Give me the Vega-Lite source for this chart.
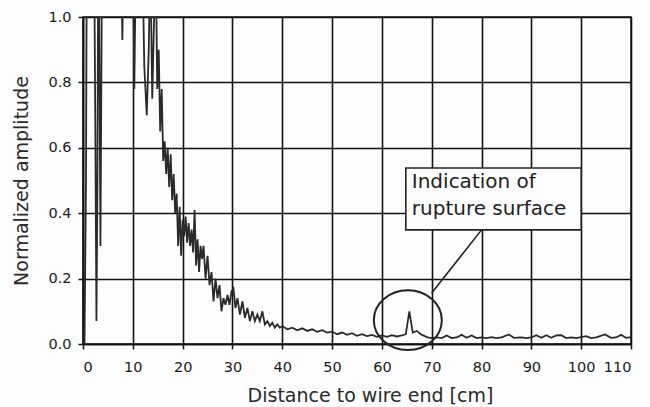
{
  "$schema": "https://vega.github.io/schema/vega-lite/v6.json",
  "width": 548,
  "height": 327,
  "autosize": "none",
  "padding": {"left": 83, "top": 17, "right": 19, "bottom": 63},
  "background": "#fdfdfd",
  "config": {
    "font": "DejaVu Sans",
    "view": {"stroke": "#111", "strokeWidth": 1.5},
    "axis": {
      "grid": true,
      "gridColor": "#111",
      "gridWidth": 1.6,
      "gridOpacity": 1,
      "domainColor": "#111",
      "domainWidth": 1.6,
      "tickColor": "#111",
      "tickSize": 5,
      "tickWidth": 1.5,
      "labelFont": "DejaVu Sans",
      "labelFontSize": 14.5,
      "labelColor": "#1a1a1a",
      "titleFont": "DejaVu Sans",
      "titleFontSize": 19,
      "titleFontWeight": "normal",
      "titleColor": "#2a2a2a"
    }
  },
  "datasets": {
    "signal": [
      {"d": 0.3, "amp": 0.0}, {"d": 0.6, "amp": 0.5}, {"d": 0.8, "amp": 1.4}, {"d": 1.5, "amp": 1.5},
      {"d": 2.2, "amp": 1.3}, {"d": 2.5, "amp": 0.6}, {"d": 2.7, "amp": 0.07}, {"d": 2.9, "amp": 0.5},
      {"d": 3.1, "amp": 1.4}, {"d": 3.5, "amp": 0.3}, {"d": 3.9, "amp": 1.4}, {"d": 5.0, "amp": 1.5},
      {"d": 7.5, "amp": 1.4}, {"d": 7.9, "amp": 0.93}, {"d": 8.3, "amp": 1.4}, {"d": 9.9, "amp": 1.4},
      {"d": 10.3, "amp": 0.78}, {"d": 10.7, "amp": 1.3}, {"d": 11.8, "amp": 1.3}, {"d": 12.3, "amp": 0.85},
      {"d": 12.8, "amp": 0.70}, {"d": 13.2, "amp": 0.9}, {"d": 13.5, "amp": 1.2}, {"d": 13.9, "amp": 0.75},
      {"d": 14.2, "amp": 0.95}, {"d": 14.6, "amp": 1.2}, {"d": 14.9, "amp": 0.78}, {"d": 15.2, "amp": 0.9},
      {"d": 15.5, "amp": 0.65}, {"d": 15.8, "amp": 0.78}, {"d": 16.1, "amp": 0.56}, {"d": 16.4, "amp": 0.62},
      {"d": 16.7, "amp": 0.52}, {"d": 17.0, "amp": 0.6}, {"d": 17.3, "amp": 0.48}, {"d": 17.6, "amp": 0.58},
      {"d": 17.9, "amp": 0.44}, {"d": 18.2, "amp": 0.52}, {"d": 18.5, "amp": 0.4}, {"d": 18.8, "amp": 0.46},
      {"d": 19.1, "amp": 0.30}, {"d": 19.4, "amp": 0.42}, {"d": 19.7, "amp": 0.27}, {"d": 20.0, "amp": 0.38},
      {"d": 20.3, "amp": 0.33}, {"d": 20.6, "amp": 0.39}, {"d": 20.9, "amp": 0.31}, {"d": 21.2, "amp": 0.37},
      {"d": 21.5, "amp": 0.30}, {"d": 21.8, "amp": 0.35}, {"d": 22.1, "amp": 0.28}, {"d": 22.4, "amp": 0.41},
      {"d": 22.7, "amp": 0.24}, {"d": 23.0, "amp": 0.32}, {"d": 23.3, "amp": 0.22}, {"d": 23.6, "amp": 0.30},
      {"d": 23.9, "amp": 0.26}, {"d": 24.2, "amp": 0.30}, {"d": 24.6, "amp": 0.20}, {"d": 25.0, "amp": 0.27},
      {"d": 25.4, "amp": 0.18}, {"d": 25.8, "amp": 0.22}, {"d": 26.2, "amp": 0.13}, {"d": 26.6, "amp": 0.20},
      {"d": 27.0, "amp": 0.14}, {"d": 27.4, "amp": 0.18}, {"d": 27.8, "amp": 0.10}, {"d": 28.2, "amp": 0.14},
      {"d": 28.6, "amp": 0.12}, {"d": 29.0, "amp": 0.15}, {"d": 29.4, "amp": 0.12}, {"d": 29.8, "amp": 0.16},
      {"d": 30.2, "amp": 0.17}, {"d": 30.6, "amp": 0.11}, {"d": 31.0, "amp": 0.14}, {"d": 31.5, "amp": 0.09},
      {"d": 32.0, "amp": 0.13}, {"d": 32.5, "amp": 0.08}, {"d": 33.0, "amp": 0.11}, {"d": 33.5, "amp": 0.07},
      {"d": 34.0, "amp": 0.10}, {"d": 34.5, "amp": 0.07}, {"d": 35.0, "amp": 0.09}, {"d": 35.5, "amp": 0.07},
      {"d": 36.0, "amp": 0.10}, {"d": 36.5, "amp": 0.06}, {"d": 37.0, "amp": 0.07}, {"d": 37.5, "amp": 0.055},
      {"d": 38.0, "amp": 0.065}, {"d": 38.5, "amp": 0.05}, {"d": 39.0, "amp": 0.06}, {"d": 39.5, "amp": 0.05},
      {"d": 40.0, "amp": 0.055}, {"d": 41, "amp": 0.045}, {"d": 42, "amp": 0.05}, {"d": 43, "amp": 0.042},
      {"d": 44, "amp": 0.048}, {"d": 45, "amp": 0.04}, {"d": 46, "amp": 0.045}, {"d": 47, "amp": 0.037},
      {"d": 48, "amp": 0.042}, {"d": 49, "amp": 0.035}, {"d": 50, "amp": 0.038}, {"d": 51, "amp": 0.03},
      {"d": 52, "amp": 0.035}, {"d": 53, "amp": 0.028}, {"d": 54, "amp": 0.033}, {"d": 55, "amp": 0.025},
      {"d": 56, "amp": 0.03}, {"d": 57, "amp": 0.024}, {"d": 58, "amp": 0.028}, {"d": 59, "amp": 0.022},
      {"d": 60, "amp": 0.026}, {"d": 61, "amp": 0.022}, {"d": 62, "amp": 0.027}, {"d": 63, "amp": 0.023},
      {"d": 64, "amp": 0.026}, {"d": 64.8, "amp": 0.03}, {"d": 65.5, "amp": 0.10}, {"d": 66.2, "amp": 0.035},
      {"d": 67, "amp": 0.04}, {"d": 67.8, "amp": 0.03}, {"d": 68.5, "amp": 0.025}, {"d": 69.2, "amp": 0.02},
      {"d": 70, "amp": 0.018}, {"d": 71, "amp": 0.02}, {"d": 72, "amp": 0.018}, {"d": 73, "amp": 0.026},
      {"d": 74, "amp": 0.018}, {"d": 75, "amp": 0.02}, {"d": 76, "amp": 0.028}, {"d": 77, "amp": 0.019},
      {"d": 78, "amp": 0.026}, {"d": 79, "amp": 0.018}, {"d": 80, "amp": 0.02}, {"d": 81, "amp": 0.018},
      {"d": 82, "amp": 0.021}, {"d": 83, "amp": 0.018}, {"d": 84, "amp": 0.02}, {"d": 85.5, "amp": 0.029},
      {"d": 86.5, "amp": 0.019}, {"d": 88, "amp": 0.02}, {"d": 89, "amp": 0.018}, {"d": 90, "amp": 0.02},
      {"d": 91, "amp": 0.027}, {"d": 92, "amp": 0.019}, {"d": 93, "amp": 0.027}, {"d": 94, "amp": 0.019},
      {"d": 95, "amp": 0.026}, {"d": 96, "amp": 0.027}, {"d": 97, "amp": 0.018}, {"d": 98, "amp": 0.02},
      {"d": 99, "amp": 0.018}, {"d": 101, "amp": 0.024}, {"d": 102, "amp": 0.018}, {"d": 103, "amp": 0.02},
      {"d": 104.8, "amp": 0.029}, {"d": 106, "amp": 0.019}, {"d": 107, "amp": 0.02}, {"d": 108, "amp": 0.028},
      {"d": 109, "amp": 0.019}, {"d": 110, "amp": 0.021}
    ],
    "box": [{"x1": 64.8, "x2": 100, "y1": 0.538, "y2": 0.349}],
    "labels": [
      {"x": 66, "y": 0.477, "t": "Indication of"},
      {"x": 66, "y": 0.394, "t": "rupture surface"}
    ],
    "ring": [{"x": 65.2, "y": 0.073}],
    "pointer": [{"x1": 70, "y1": 0.156, "x2": 80, "y2": 0.349}]
  },
  "layer": [
    {
      "data": {"name": "signal"},
      "mark": {"type": "line", "color": "#2a2a2a", "strokeWidth": 1.8, "clip": true, "interpolate": "linear"},
      "encoding": {
        "x": {
          "field": "d", "type": "quantitative",
          "scale": {"domain": [0, 110], "nice": false},
          "axis": {"values": [0, 10, 20, 30, 40, 50, 60, 70, 80, 90, 100, 110], "labelPadding": 11, "title": "Distance to wire end [cm]", "titlePadding": 13, "titleX": 287}
        },
        "y": {
          "field": "amp", "type": "quantitative",
          "scale": {"domain": [0, 1], "nice": false},
          "axis": {"values": [0, 0.2, 0.4, 0.6, 0.8, 1.0], "format": ".1f", "labelPadding": 7, "title": "Normalized amplitude", "titlePadding": 16}
        }
      }
    },
    {
      "data": {"name": "box"},
      "mark": {"type": "rect", "fill": "#fdfdfd", "stroke": "#222", "strokeWidth": 1.6},
      "encoding": {
        "x": {"field": "x1", "type": "quantitative"},
        "x2": {"field": "x2"},
        "y": {"field": "y1", "type": "quantitative"},
        "y2": {"field": "y2"}
      }
    },
    {
      "data": {"name": "labels"},
      "mark": {"type": "text", "align": "left", "baseline": "alphabetic", "font": "DejaVu Sans", "fontSize": 20, "color": "#222"},
      "encoding": {
        "x": {"field": "x", "type": "quantitative"},
        "y": {"field": "y", "type": "quantitative"},
        "text": {"field": "t"}
      }
    },
    {
      "data": {"name": "ring"},
      "mark": {"type": "point", "filled": false, "stroke": "#222", "strokeWidth": 2, "opacity": 1, "size": 4624,
        "shape": "M-1,0 C-1,-0.486 -0.552,-0.88 0,-0.88 C0.552,-0.88 1,-0.486 1,0 C1,0.486 0.552,0.88 0,0.88 C-0.552,0.88 -1,0.486 -1,0 Z"},
      "encoding": {
        "x": {"field": "x", "type": "quantitative"},
        "y": {"field": "y", "type": "quantitative"}
      }
    },
    {
      "data": {"name": "pointer"},
      "mark": {"type": "rule", "color": "#222", "strokeWidth": 1.6},
      "encoding": {
        "x": {"field": "x1", "type": "quantitative"},
        "y": {"field": "y1", "type": "quantitative"},
        "x2": {"field": "x2"},
        "y2": {"field": "y2"}
      }
    }
  ]
}
